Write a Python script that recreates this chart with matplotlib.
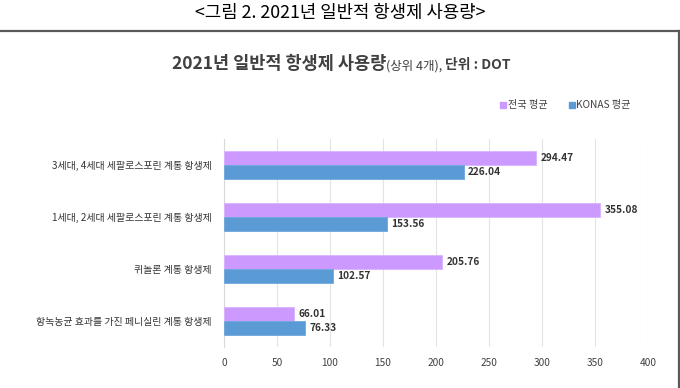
import matplotlib
matplotlib.use("Agg")
import matplotlib.pyplot as plt
from matplotlib.lines import Line2D
from matplotlib.patches import Rectangle
import numpy as np

plt.rcParams['font.family'] = ['Noto Sans CJK KR', 'DejaVu Sans']

categories = ["3세대, 4세대 세팔로스포린 계통 항생제",
              "1세대, 2세대 세팔로스포린 계통 항생제",
              "퀴놀론 계통 항생제",
              "항녹농균 효과를 가진 페니실린 계통 항생제"]
national = [294.47, 355.08, 205.76, 66.01]
konas = [226.04, 153.56, 102.57, 76.33]
series_names = ["전국 평균", "KONAS 평균"]
xticks = [0, 50, 100, 150, 200, 250, 300, 350, 400]

purple = "#CC99FF"
blue = "#5B9BD5"
text_c = "#404040"

W, H = 680, 388
fig = plt.figure(figsize=(W/100, H/100), dpi=100)
fig.patch.set_facecolor("white")

ax = fig.add_axes([224/W, 1-347/H, (648-224)/W, (347-139)/H])
y = np.arange(len(categories))
h = 0.26
ax.barh(y - h/2, national, height=h, color=purple, edgecolor="#D9B3FF", linewidth=0.6, zorder=3)
ax.barh(y + h/2, konas, height=h, color=blue, edgecolor="#6FA8DC", linewidth=0.6, zorder=3)
ax.set_ylim(len(categories)-0.5, -0.5)
ax.set_xlim(0, 400)
ax.set_xticks(xticks)
ax.set_xticklabels([str(t) for t in xticks], fontsize=7.3, color=text_c)
ax.set_yticks(y)
ax.set_yticklabels(categories, fontsize=7.2, color="#333333")
ax.tick_params(axis='x', length=0, pad=8)
ax.tick_params(axis='y', length=0, pad=9)
for s in ["top", "right", "bottom"]:
    ax.spines[s].set_visible(False)
ax.spines["left"].set_color("#D9D9D9")
ax.spines["left"].set_linewidth(0.8)
ax.grid(axis='x', color="#E3E3E3", linewidth=0.8, zorder=0)
ax.set_axisbelow(True)

for i in range(len(categories)):
    ax.text(national[i] + 4, y[i] - h/2, f"{national[i]:.2f}", va='center', ha='left',
            fontsize=7.3, color="#333333", fontweight='bold')
    ax.text(konas[i] + 4, y[i] + h/2, f"{konas[i]:.2f}", va='center', ha='left',
            fontsize=7.3, color="#333333", fontweight='bold')

# caption
fig.text(340/W, 1-13/H, "<그림 2. 2021년 일반적 항생제 사용량>", ha='center', va='center',
         fontsize=12.8, color="black")

# frame lines
fig.add_artist(Line2D([0, 679/W], [1-31/H, 1-31/H], color="#595959", linewidth=1.6, transform=fig.transFigure))
fig.add_artist(Line2D([678.5/W, 678.5/W], [1-31/H, 0], color="#595959", linewidth=1.6, transform=fig.transFigure))

# title
t1 = fig.text(172/W, 1-64/H, "2021년 일반적 항생제 사용량", ha='left', va='center',
              fontsize=12.6, fontweight='bold', color=text_c)
fig.canvas.draw()
bb = t1.get_window_extent()
t2 = fig.text(bb.x1/W, 1-66/H, "(상위 4개), ", ha='left', va='center',
              fontsize=9, color=text_c)
fig.canvas.draw()
bb2 = t2.get_window_extent()
fig.text(bb2.x1/W, 1-65.5/H, "단위 : DOT", ha='left', va='center',
         fontsize=10, fontweight='bold', color=text_c)

# legend
for xs, col, name in [(500, purple, series_names[0]), (569, blue, series_names[1])]:
    fig.add_artist(Rectangle((xs/W, 1-107.5/H), 5.5/W, 5.5/H, color=col, transform=fig.transFigure))
    fig.text((xs+7.5)/W, 1-105/H, name, ha='left', va='center', fontsize=7.3, color=text_c)

fig.savefig("out.png", dpi=100, facecolor="white")
